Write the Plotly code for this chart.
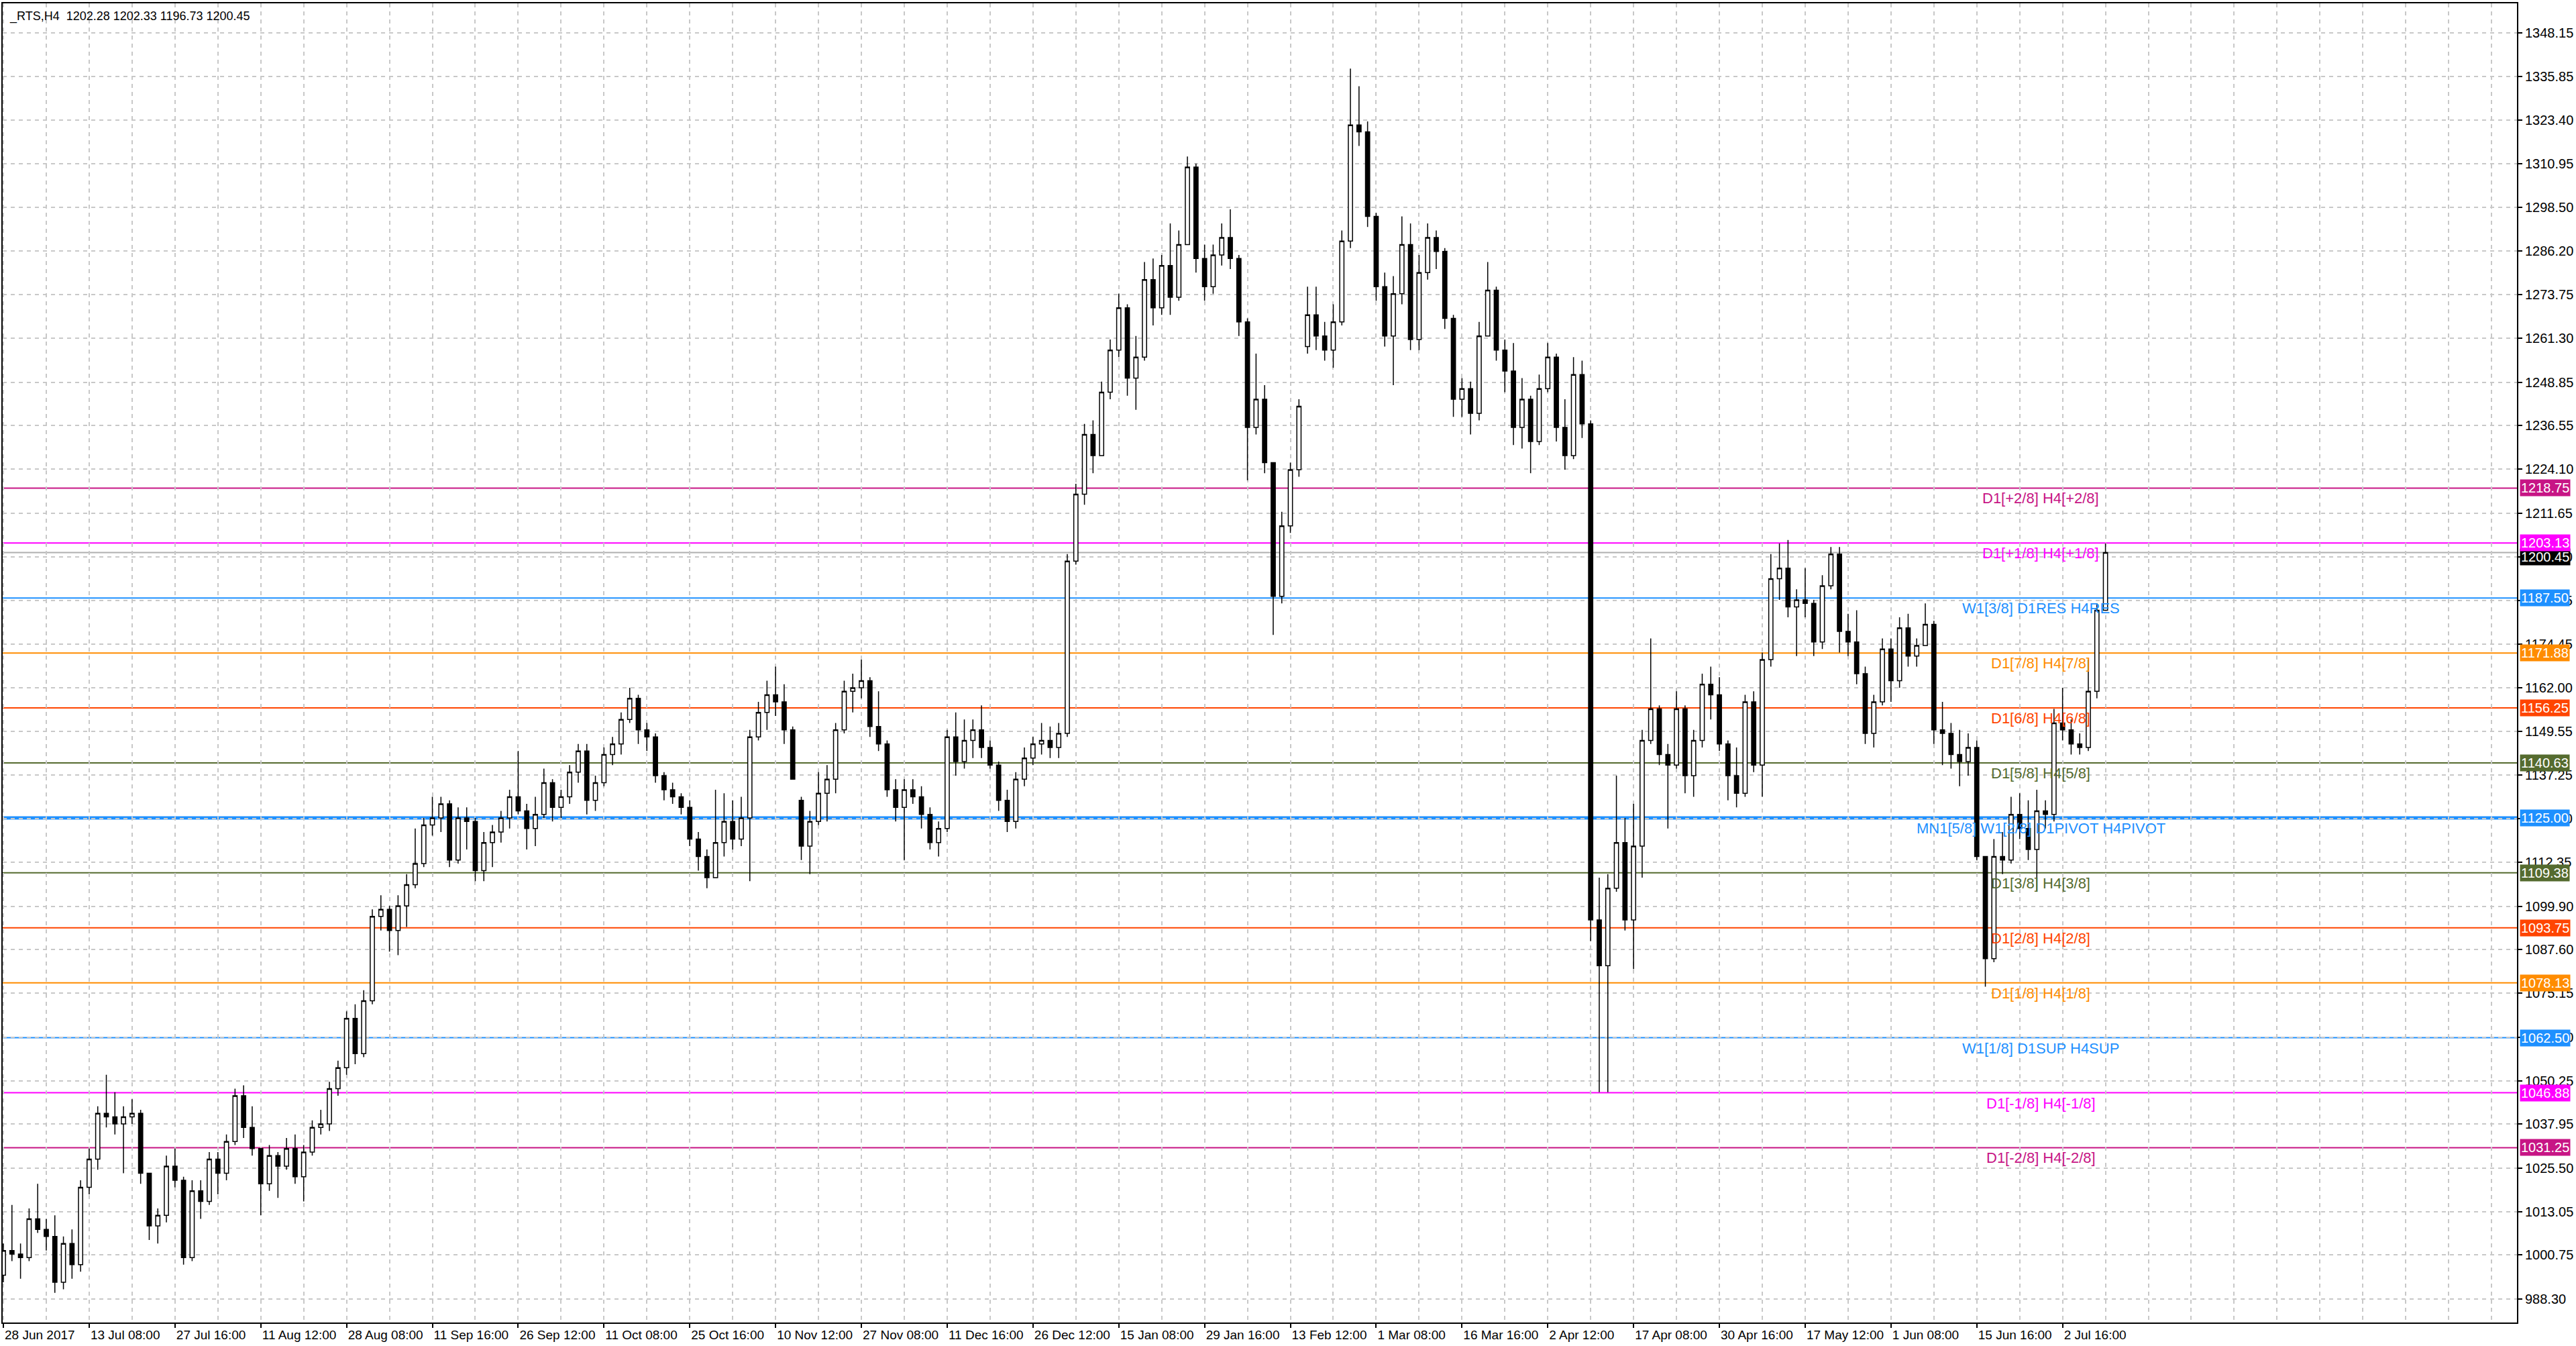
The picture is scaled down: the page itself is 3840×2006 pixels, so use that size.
import plotly.graph_objects as go

# H4 candles (each mark here stands for a small group of H4 bars)
opens = [995, 1002, 1001, 1000, 1011, 1008, 1006, 993, 1004, 998,
         1020, 1028, 1041, 1040, 1038, 1040, 1041, 1024, 1009, 1012,
         1026, 1022, 1000, 1019, 1016, 1028, 1024, 1033, 1046, 1037,
         1031, 1021, 1029, 1026, 1031, 1023, 1030, 1037, 1038, 1048,
         1054, 1068, 1058, 1073, 1097, 1099, 1093, 1100, 1106, 1112,
         1123, 1125, 1129, 1113, 1125, 1124, 1110, 1118, 1121, 1125,
         1131, 1127, 1122, 1126, 1135, 1128, 1131, 1138, 1144, 1130,
         1135, 1143, 1146, 1153, 1159, 1150, 1148, 1137, 1133, 1131,
         1128, 1119, 1114, 1108, 1118, 1124, 1119, 1125, 1148, 1155,
         1160, 1158, 1150, 1130, 1117, 1124, 1132, 1136, 1150, 1161,
         1162, 1164, 1151, 1146, 1133, 1128, 1133, 1131, 1126, 1118,
         1122, 1148, 1141, 1147, 1150, 1145, 1140, 1130, 1124, 1136,
         1142, 1146, 1147, 1145, 1149, 1198, 1217, 1234, 1228, 1246,
         1258, 1270, 1250, 1256, 1278, 1270, 1282, 1273, 1288, 1310,
         1284, 1276, 1285, 1290, 1284, 1266, 1236, 1244, 1226, 1188,
         1208, 1224, 1259, 1268, 1262, 1258, 1266, 1289, 1322, 1320,
         1296, 1276, 1262, 1274, 1288, 1261, 1280, 1290, 1286, 1267,
         1244, 1247, 1240, 1262, 1275, 1258, 1252, 1236, 1244, 1232,
         1247, 1256, 1236, 1228, 1251, 1237, 1096, 1083, 1105, 1118,
         1096, 1117, 1147, 1156, 1143, 1140, 1156, 1137, 1147, 1163,
         1160, 1146, 1137, 1132, 1158, 1140, 1170, 1193, 1196, 1185,
         1187, 1186, 1175, 1191, 1200, 1178, 1175, 1166, 1149, 1158,
         1173, 1164, 1179, 1171, 1174, 1180, 1150, 1149, 1143, 1141,
         1145, 1114, 1085, 1114, 1113, 1126, 1122, 1116, 1127, 1126,
         1152, 1150, 1146, 1145, 1161, 1184]
highs = [1004, 1015, 1004, 1014, 1021, 1011, 1012, 1006, 1008, 1022,
         1031, 1043, 1052, 1047, 1043, 1045, 1042, 1024, 1014, 1029,
         1031, 1023, 1022, 1022, 1030, 1030, 1035, 1048, 1049, 1043,
         1031, 1032, 1030, 1034, 1035, 1032, 1039, 1042, 1050, 1056,
         1070, 1072, 1076, 1099, 1103, 1100, 1103, 1109, 1122, 1125,
         1131, 1131, 1130, 1128, 1128, 1125, 1121, 1123, 1127, 1133,
         1144, 1129, 1131, 1139, 1136, 1133, 1140, 1146, 1146, 1137,
         1145, 1148, 1155, 1162, 1160, 1152, 1149, 1138, 1135, 1132,
         1130, 1121, 1116, 1133, 1132, 1130, 1131, 1150, 1158, 1164,
         1168, 1163, 1151, 1131, 1127, 1138, 1140, 1152, 1164, 1166,
         1170, 1165, 1161, 1147, 1136, 1136, 1136, 1134, 1128, 1124,
         1150, 1155, 1153, 1153, 1157, 1147, 1141, 1133, 1138, 1145,
         1148, 1152, 1151, 1152, 1200, 1220, 1237, 1238, 1249, 1261,
         1274, 1271, 1262, 1283, 1284, 1285, 1294, 1292, 1313, 1311,
         1288, 1288, 1294, 1298, 1285, 1267, 1257, 1248, 1226, 1212,
         1226, 1244, 1276, 1276, 1266, 1271, 1292, 1338, 1333, 1323,
         1297, 1280, 1279, 1296, 1294, 1285, 1294, 1292, 1287, 1268,
         1250, 1249, 1266, 1283, 1276, 1261, 1260, 1250, 1245, 1251,
         1260, 1257, 1244, 1256, 1255, 1238, 1108, 1109, 1137, 1125,
         1129, 1150, 1176, 1157, 1146, 1161, 1157, 1150, 1166, 1168,
         1165, 1147, 1145, 1160, 1161, 1172, 1200, 1203, 1204, 1190,
         1196, 1187, 1194, 1202, 1202, 1183, 1184, 1168, 1160, 1176,
         1176, 1182, 1183, 1176, 1186, 1181, 1158, 1152, 1150, 1149,
         1147, 1113, 1119, 1121, 1131, 1132, 1130, 1133, 1130, 1156,
         1162, 1153, 1149, 1170, 1186, 1203]
lows = [993, 999, 994, 999, 1007, 1002, 990, 991, 994, 996,
        1018, 1025, 1037, 1035, 1024, 1038, 1021, 1005, 1004, 1010,
        1020, 998, 999, 1011, 1015, 1018, 1022, 1032, 1034, 1029,
        1012, 1019, 1017, 1025, 1021, 1016, 1029, 1035, 1036, 1046,
        1052, 1055, 1057, 1072, 1093, 1087, 1086, 1094, 1105, 1111,
        1120, 1121, 1111, 1112, 1116, 1107, 1107, 1111, 1118, 1122,
        1126, 1116, 1117, 1125, 1124, 1125, 1129, 1135, 1126, 1127,
        1134, 1140, 1143, 1152, 1146, 1144, 1135, 1130, 1129, 1126,
        1117, 1110, 1105, 1108, 1114, 1116, 1117, 1107, 1147, 1150,
        1154, 1146, 1136, 1113, 1109, 1123, 1124, 1132, 1149, 1155,
        1159, 1148, 1144, 1131, 1124, 1113, 1129, 1122, 1116, 1114,
        1121, 1137, 1139, 1142, 1142, 1139, 1127, 1121, 1122, 1134,
        1140, 1143, 1142, 1142, 1148, 1197, 1214, 1223, 1228, 1244,
        1256, 1245, 1241, 1255, 1265, 1268, 1268, 1272, 1288, 1280,
        1272, 1274, 1282, 1281, 1262, 1221, 1234, 1223, 1177, 1186,
        1206, 1222, 1257, 1258, 1255, 1253, 1265, 1287, 1316, 1293,
        1272, 1259, 1248, 1271, 1258, 1258, 1278, 1281, 1264, 1239,
        1239, 1234, 1238, 1262, 1255, 1246, 1231, 1230, 1223, 1231,
        1246, 1232, 1224, 1227, 1233, 1090, 1047, 1047, 1104, 1093,
        1082, 1108, 1146, 1140, 1122, 1139, 1132, 1131, 1145, 1153,
        1144, 1130, 1128, 1131, 1138, 1131, 1168, 1187, 1182, 1171,
        1182, 1171, 1173, 1190, 1172, 1171, 1163, 1146, 1145, 1157,
        1158, 1162, 1168, 1168, 1174, 1146, 1140, 1139, 1134, 1137,
        1113, 1077, 1084, 1109, 1112, 1119, 1113, 1104, 1122, 1124,
        1147, 1143, 1143, 1144, 1159, 1184]
closes = [1002, 1001, 1000, 1011, 1008, 1006, 993, 1004, 998, 1020,
          1028, 1041, 1040, 1038, 1040, 1041, 1024, 1009, 1012, 1026,
          1022, 1000, 1019, 1016, 1028, 1024, 1033, 1046, 1037, 1031,
          1021, 1029, 1026, 1031, 1023, 1030, 1037, 1038, 1048, 1054,
          1068, 1058, 1073, 1097, 1099, 1093, 1100, 1106, 1112, 1123,
          1125, 1129, 1113, 1125, 1124, 1110, 1118, 1121, 1125, 1131,
          1127, 1122, 1126, 1135, 1128, 1131, 1138, 1144, 1130, 1135,
          1143, 1146, 1153, 1159, 1150, 1148, 1137, 1133, 1131, 1128,
          1119, 1114, 1108, 1118, 1124, 1119, 1125, 1148, 1155, 1160,
          1158, 1150, 1136, 1117, 1124, 1132, 1136, 1150, 1161, 1162,
          1164, 1151, 1146, 1133, 1128, 1133, 1131, 1126, 1118, 1122,
          1148, 1141, 1147, 1150, 1145, 1140, 1130, 1124, 1136, 1142,
          1146, 1147, 1145, 1149, 1198, 1217, 1234, 1228, 1246, 1258,
          1270, 1250, 1256, 1278, 1270, 1282, 1273, 1288, 1310, 1284,
          1276, 1285, 1290, 1284, 1266, 1236, 1244, 1226, 1188, 1208,
          1224, 1242, 1268, 1262, 1258, 1266, 1289, 1322, 1320, 1296,
          1276, 1262, 1274, 1288, 1261, 1280, 1290, 1286, 1267, 1244,
          1247, 1240, 1262, 1275, 1258, 1252, 1236, 1244, 1232, 1247,
          1256, 1236, 1228, 1251, 1237, 1096, 1083, 1105, 1118, 1096,
          1117, 1147, 1156, 1143, 1140, 1156, 1137, 1147, 1163, 1160,
          1146, 1137, 1132, 1158, 1140, 1170, 1193, 1196, 1185, 1187,
          1186, 1175, 1191, 1200, 1178, 1175, 1166, 1149, 1158, 1173,
          1164, 1179, 1171, 1174, 1180, 1150, 1149, 1143, 1141, 1145,
          1114, 1085, 1114, 1113, 1126, 1122, 1116, 1127, 1126, 1152,
          1150, 1146, 1145, 1161, 1184, 1200.45]

x_labels = ["28 Jun 2017", "13 Jul 08:00", "27 Jul 16:00", "11 Aug 12:00", "28 Aug 08:00",
            "11 Sep 16:00", "26 Sep 12:00", "11 Oct 08:00", "25 Oct 16:00", "10 Nov 12:00",
            "27 Nov 08:00", "11 Dec 16:00", "26 Dec 12:00", "15 Jan 08:00", "29 Jan 16:00",
            "13 Feb 12:00", "1 Mar 08:00", "16 Mar 16:00", "2 Apr 12:00", "17 Apr 08:00",
            "30 Apr 16:00", "17 May 12:00", "1 Jun 08:00", "15 Jun 16:00", "2 Jul 16:00"]

y_ticks = [1348.15, 1335.85, 1323.40, 1310.95, 1298.50, 1286.20, 1273.75, 1261.30,
           1248.85, 1236.55, 1224.10, 1211.65, 1199.20, 1186.75, 1174.45, 1162.00,
           1149.55, 1137.25, 1124.80, 1112.35, 1099.90, 1087.60, 1075.15, 1062.70,
           1050.25, 1037.95, 1025.50, 1013.05, 1000.75, 988.30]

level_values = [1218.75, 1203.13, 1187.50, 1171.88, 1156.25, 1140.63, 1125.00,
                1109.38, 1093.75, 1078.13, 1062.50, 1046.88, 1031.25]
level_names = ["D1[+2/8] H4[+2/8]", "D1[+1/8] H4[+1/8]", "W1[3/8] D1RES H4RES",
               "D1[7/8] H4[7/8]", "D1[6/8] H4[6/8]", "D1[5/8] H4[5/8]",
               "MN1[5/8] W1[2/8] D1PIVOT H4PIVOT", "D1[3/8] H4[3/8]", "D1[2/8] H4[2/8]",
               "D1[1/8] H4[1/8]", "W1[1/8] D1SUP H4SUP", "D1[-1/8] H4[-1/8]",
               "D1[-2/8] H4[-2/8]"]
level_colors = ["#C71585", "#FF00FF", "#1E90FF", "#FF8C00", "#FF4500", "#556B2F", "#1E90FF",
                "#556B2F", "#FF4500", "#FF8C00", "#1E90FF", "#FF00FF", "#C71585"]

last_bar = [1202.28, 1202.33, 1196.73, 1200.45]
bid_price = 1200.45

BARS_PER_LABEL = 10
FONT = "Liberation Sans, Arial, sans-serif"
GRID = "#C8C8C8"

fig = go.Figure()
fig.add_trace(go.Candlestick(
    x=list(range(len(closes))),
    open=opens, high=highs, low=lows, close=closes,
    increasing=dict(line=dict(color="black", width=1.5), fillcolor="white"),
    decreasing=dict(line=dict(color="black", width=1.5), fillcolor="black"),
    whiskerwidth=0,
    showlegend=False,
    hoverinfo="skip",
))

# level lines
for v, c in zip(level_values, level_colors):
    fig.add_shape(type="line", xref="paper", x0=0, x1=1, y0=v, y1=v,
                  line=dict(color=c, width=5 if v == 1125.00 else 2), layer="between")
fig.add_shape(type="line", xref="paper", x0=0, x1=1, y0=bid_price, y1=bid_price,
              line=dict(color="#B0B0B0", width=2), layer="between")

# level captions
for v, n, c in zip(level_values, level_names, level_colors):
    fig.add_annotation(x=0.8106, xref="paper", y=v, yref="y", text=n, showarrow=False,
                       xanchor="center", yanchor="top", yshift=-1,
                       font=dict(family=FONT, size=22, color=c))

# price boxes on the scale
fig.add_annotation(x=1, xref="paper", y=bid_price, yref="y", text=f"{bid_price:.2f}",
                   showarrow=False, xanchor="left", yanchor="middle", xshift=4, yshift=-7,
                   bgcolor="black", borderpad=1, font=dict(family=FONT, size=20, color="white"))
for v, c in zip(level_values, level_colors):
    fig.add_annotation(x=1, xref="paper", y=v, yref="y", text=f"{v:.2f}",
                       showarrow=False, xanchor="left", yanchor="middle", xshift=4,
                       bgcolor=c, borderpad=1, font=dict(family=FONT, size=20, color="white"))

fig.add_annotation(x=0, xref="paper", y=1, yref="paper",
                   text="_RTS,H4  " + " ".join(f"{p:.2f}" for p in last_bar),
                   showarrow=False, xanchor="left", yanchor="top", xshift=8, yshift=-7,
                   font=dict(family=FONT, size=18, color="black"))

fig.update_layout(
    width=3840, height=2006,
    margin=dict(l=4, r=88, t=5, b=35),
    paper_bgcolor="white", plot_bgcolor="white",
    font=dict(family=FONT, size=20, color="black"),
    xaxis=dict(
        range=[-0.08, 292.96],
        rangeslider=dict(visible=False),
        tickmode="array",
        tickvals=[i * BARS_PER_LABEL for i in range(len(x_labels))],
        ticktext=x_labels,
        tickangle=0,
        ticklabelposition="outside right",
        ticks="outside", ticklen=6, tickwidth=2, tickcolor="black",
        tickfont=dict(family=FONT, size=19, color="black"),
        showgrid=True, gridcolor=GRID, griddash="6px,6px", gridwidth=2,
        minor=dict(dtick=BARS_PER_LABEL / 2, tick0=0, showgrid=True,
                   gridcolor=GRID, griddash="6px,6px", gridwidth=2),
        showline=True, linecolor="black", linewidth=2, mirror=True,
        zeroline=False, automargin=False,
    ),
    yaxis=dict(
        side="right",
        range=[981.55, 1356.55],
        tickmode="array",
        tickvals=y_ticks,
        ticktext=[f"{v:.2f}" for v in y_ticks],
        ticks="outside", ticklen=6, tickwidth=2, tickcolor="black",
        tickfont=dict(family=FONT, size=20, color="black"),
        showgrid=True, gridcolor=GRID, griddash="6px,6px", gridwidth=2,
        showline=True, linecolor="black", linewidth=2, mirror=True,
        zeroline=False, automargin=False,
    ),
)

fig.write_html("out.html", config={"displayModeBar": False},
               post_script="document.body.style.margin='0';document.body.style.overflow='hidden';")
